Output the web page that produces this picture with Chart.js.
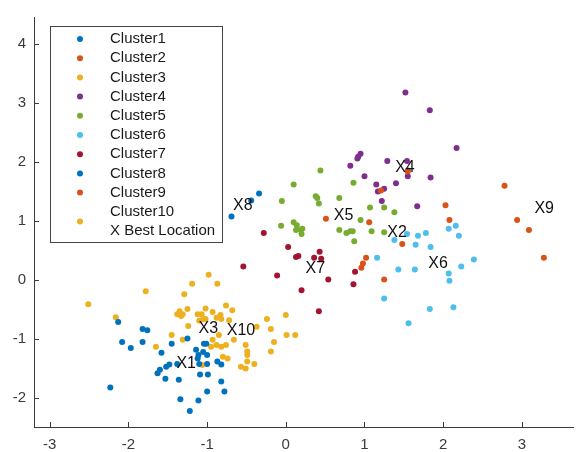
<!DOCTYPE html>
<html>
<head>
<meta charset="utf-8">
<script src="https://cdn.jsdelivr.net/npm/chart.js@4"></script>
<style>
html,body{margin:0;padding:0;background:#fff;}
#wrap{width:576px;height:452px;}
</style>
</head>
<body>
<div id="wrap"><canvas id="c" width="576" height="452"></canvas></div>
<script>
const clusterNames = ["Cluster1","Cluster2","Cluster3","Cluster4","Cluster5","Cluster6","Cluster7","Cluster8","Cluster9","Cluster10"];
const clusterColors = ["#0072BD","#D95319","#EDB120","#7E2F8E","#77AC30","#4DBEEE","#A2142F","#0072BD","#D95319","#EDB120"];
const xTicks = [-3,-2,-1,0,1,2,3];
const yTicks = [-2,-1,0,1,2,3,4];

const cluster1 = [[-2.13,-0.72],[-1.82,-0.84],[-1.76,-0.86],[-2.08,-1.06],[-1.97,-1.16],[-1.82,-1.06],[-1.58,-1.24],[-1.45,-1.09],[-1.25,-1.0],[-1.48,-1.44],[-1.52,-1.48],[-1.60,-1.53],[-1.63,-1.59],[-1.38,-1.43],[-1.53,-1.68],[-1.36,-1.70],[-2.23,-1.83],[-1.34,-2.03],[-1.22,-2.23],[-1.11,-2.05],[-1.09,-1.61],[-1.14,-1.19],[-1.12,-1.34],[-1.0,-1.9],[-0.78,-1.9],[-0.82,-1.73],[-1.01,-1.09],[-1.04,-1.09],[-1.0,-1.28],[-0.87,-1.39],[-0.82,-1.44],[-1.0,-1.43],[-1.1,-1.43],[-1.11,-1.28],[-1.05,-1.23],[-0.99,-1.61]];
const cluster2 = [[0.51,1.03],[1.06,0.97],[1.48,0.60],[2.03,1.26],[2.08,1.01],[1.02,0.37],[0.98,0.27],[0.96,0.20],[1.25,0.0],[1.55,1.83],[1.21,1.51]];
const cluster3 = [[-2.51,-0.42],[-2.16,-0.64],[-1.78,-0.20],[-1.19,-0.07],[-1.29,-0.25],[-1.35,-0.54],[-1.31,-0.59],[-1.38,-0.59],[-1.33,-0.62],[-1.25,-0.50],[-1.12,-0.59],[-1.07,-0.59],[-1.45,-0.94],[-1.31,-1.02],[-1.24,-0.79],[-1.65,-1.14],[-1.06,-1.45],[-1.02,-0.49],[-1.05,-0.67],[-1.02,-0.67],[-1.1,-0.70]];
const cluster4 = [[1.52,3.17],[1.83,2.87],[2.17,2.23],[0.95,2.13],[0.92,2.08],[0.91,2.05],[0.82,1.93],[1.0,1.75],[1.29,2.01],[1.54,2.01],[1.55,1.85],[1.55,1.75],[1.84,1.73],[1.15,1.61],[1.25,1.54],[1.17,1.49],[1.40,1.63],[1.22,1.33],[1.67,1.24]];
const cluster5 = [[0.44,1.85],[0.10,1.61],[-0.05,1.33],[0.38,1.41],[0.40,1.38],[0.42,1.29],[-0.06,0.91],[0.10,0.97],[0.14,0.92],[0.13,0.84],[0.19,0.84],[0.21,0.86],[0.20,0.77],[0.68,1.38],[0.86,1.64],[0.68,0.84],[0.77,0.79],[0.82,0.82],[0.85,0.82],[0.87,0.65],[0.95,1.01],[1.07,1.22],[1.25,1.22],[1.38,1.14],[1.09,0.82],[1.25,0.80]];
const cluster6 = [[1.38,0.67],[1.54,0.77],[1.68,0.74],[1.78,0.79],[1.65,0.59],[1.84,0.55],[2.07,0.86],[2.16,0.91],[2.20,0.74],[2.39,0.34],[2.23,0.22],[2.07,0.10],[2.08,-0.02],[1.43,0.17],[1.64,0.17],[1.16,0.37],[1.25,-0.32],[1.83,-0.50],[2.13,-0.47],[1.56,-0.74]];
const cluster7 = [[-0.54,0.22],[-0.11,0.07],[-0.28,0.79],[0.03,0.55],[0.16,0.40],[0.13,0.38],[0.36,0.37],[0.43,0.47],[0.45,0.35],[0.20,-0.18],[0.54,0.0],[0.42,-0.54],[0.88,0.13],[0.86,-0.08]];
const cluster8 = [[-0.69,1.07],[-0.44,1.34],[-0.34,1.46]];
const cluster9 = [[2.78,1.59],[2.94,1.01],[3.09,0.84],[3.28,0.37]];
const cluster10 = [[-0.98,0.08],[-0.87,-0.07],[-0.93,-0.55],[-0.76,-0.44],[-0.68,-0.52],[-0.88,-0.65],[-0.82,-0.67],[-0.72,-0.69],[-0.95,-1.14],[-0.88,-1.11],[-0.82,-1.14],[-0.76,-1.11],[-0.85,-0.94],[-0.93,-1.02],[-0.66,-1.02],[-0.51,-1.11],[-0.49,-1.22],[-0.49,-1.28],[-0.80,-1.31],[-0.74,-1.34],[-0.57,-1.48],[-0.51,-1.51],[-0.40,-1.43],[-0.37,-0.80],[-0.24,-0.67],[-0.19,-0.84],[-0.15,-1.06],[-0.19,-1.22],[0.0,-0.60],[0.01,-0.94],[0.12,-0.94],[-0.49,-1.39],[-0.83,-0.60]];

const bestLabels = ["X1","X2","X3","X4","X5","X6","X7","X8","X9","X10"];
const bestX = [-1.39, 1.29, -1.11, 1.39, 0.61, 1.81, 0.25, -0.67, 3.16, -0.75];
const bestY = [-1.43, 0.80, -0.84, 1.90, 1.09, 0.27, 0.18, 1.26, 1.21, -0.87];
const legendLast = "X Best Location";

const allClusters = [cluster1,cluster2,cluster3,cluster4,cluster5,cluster6,cluster7,cluster8,cluster9,cluster10];
const FONT = "'Liberation Sans', Arial, Helvetica, sans-serif";
const AXIS = "#3a3a3a";

const datasets = allClusters.map((pts,i)=>({
  label: clusterNames[i],
  data: pts.map(p=>({x:p[0],y:p[1]})),
  backgroundColor: clusterColors[i],
  borderWidth: 0,
  pointRadius: 3,
  pointHoverRadius: 3
}));

const decor = {
  id:'decor',
  afterDatasetsDraw(chart){
    const {ctx, chartArea, scales} = chart;
    const xs = scales.x, ys = scales.y;
    ctx.save();
    ctx.strokeStyle = AXIS; ctx.lineWidth = 1;
    xTicks.forEach(v=>{
      const px = Math.round(xs.getPixelForValue(v))+0.5;
      ctx.beginPath(); ctx.moveTo(px, chartArea.bottom); ctx.lineTo(px, chartArea.bottom-5); ctx.stroke();
    });
    yTicks.forEach(v=>{
      const py = Math.round(ys.getPixelForValue(v))+0.5;
      ctx.beginPath(); ctx.moveTo(chartArea.left, py); ctx.lineTo(chartArea.left+5, py); ctx.stroke();
    });
    ctx.fillStyle = "#111";
    ctx.font = "16px " + FONT;
    ctx.textAlign = "left"; ctx.textBaseline = "middle";
    bestLabels.forEach((t,i)=>{
      ctx.fillText(t, xs.getPixelForValue(bestX[i]), ys.getPixelForValue(bestY[i]));
    });
    const bx = 50.5, by = 26.5, bw = 172, bh = 216;
    ctx.fillStyle = "#fff";
    ctx.fillRect(bx, by, bw, bh);
    ctx.strokeStyle = "#444"; ctx.lineWidth = 1;
    ctx.strokeRect(bx, by, bw, bh);
    ctx.font = "15px " + FONT;
    ctx.textBaseline = "middle";
    const step = 19.2;
    clusterNames.forEach((n,i)=>{
      const yy = 39 + i*step;
      ctx.fillStyle = "#1a1a1a";
      ctx.fillText(n, 110, yy);
      const my = (i===clusterNames.length-1) ? yy + step/2 : yy;
      ctx.fillStyle = clusterColors[i];
      ctx.beginPath(); ctx.arc(80, my, 3, 0, Math.PI*2); ctx.fill();
    });
    ctx.fillStyle = "#1a1a1a";
    ctx.fillText(legendLast, 110, 39 + clusterNames.length*step);
    ctx.restore();
  }
};

new Chart(document.getElementById('c'), {
  type: 'scatter',
  data: { datasets },
  options: {
    responsive: false,
    animation: false,
    layout: { padding: { top: 12, right: 0, left: 0, bottom: 0 } },
    plugins: { legend: { display: false }, tooltip: { enabled: false } },
    scales: {
      x: {
        type: 'linear', min: -3.2, max: 3.65,
        afterBuildTicks(s){ s.ticks = xTicks.map(v=>({value:v})); },
        afterFit(s){ s.height = 25; },
        ticks: { includeBounds:false, stepSize:1, padding: 9, color: AXIS, font: { size: 15, family: FONT } },
        grid: { display: false, drawTicks: false },
        border: { display: true, color: AXIS, width: 1 }
      },
      y: {
        type: 'linear', min: -2.5, max: 4.45,
        afterBuildTicks(s){ s.ticks = yTicks.map(v=>({value:v})); },
        afterFit(s){ s.width = 34; },
        ticks: { includeBounds:false, stepSize:1, padding: 8, color: AXIS, font: { size: 15, family: FONT } },
        grid: { display: false, drawTicks: false },
        border: { display: true, color: AXIS, width: 1 }
      }
    }
  },
  plugins: [decor]
});
</script>
</body>
</html>
